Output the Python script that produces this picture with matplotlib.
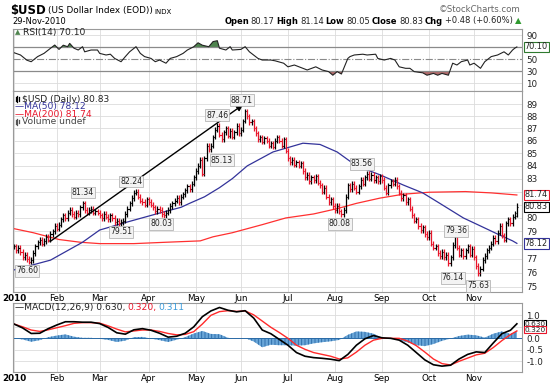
"""US Dollar Index, 2010: daily OHLC bars with MA(50)/MA(200), RSI(14) and MACD(12,26,9)."""
import matplotlib
matplotlib.use("Agg")
import matplotlib.pyplot as plt
import numpy as np
import pandas as pd
from matplotlib.lines import Line2D
from matplotlib.ticker import NullLocator

START, END = "2010-01-04", "2010-11-29"

# daily closes (one per trading day)
closes = [
    77.9, 77.6, 77.8, 77.5, 77.1, 77.3, 77.0, 76.8, 76.9, 77.4,
    77.9, 78.2, 78.4, 78.1, 78.3, 78.6, 78.4, 78.8, 79.0, 79.4,
    79.2, 79.5, 79.9, 80.2, 80.0, 80.4, 80.6, 80.3, 80.1, 80.4,
    80.3, 80.8, 81.1, 80.6, 80.4, 80.6, 80.7, 80.4, 80.5, 80.4,
    80.2, 80.0, 80.3, 80.1, 79.9, 80.2, 80.0, 79.7, 79.8, 79.6,
    79.7, 79.8, 80.3, 80.7, 81.1, 81.5, 81.9, 82.0, 81.6, 81.3,
    81.2, 81.0, 81.4, 81.2, 81.0, 80.8, 80.5, 80.7, 80.6, 80.3,
    80.2, 80.4, 80.6, 80.9, 81.1, 81.3, 81.5, 81.2, 81.6, 81.8,
    82.1, 82.4, 82.2, 82.6, 83.1, 83.6, 84.0, 84.5, 83.4, 84.6,
    85.6, 85.3, 85.6, 86.3, 86.9, 87.2, 86.5, 86.1, 86.7, 87.0,
    86.4, 86.8, 86.3, 86.7, 87.2, 86.6, 86.9, 87.6, 88.4, 88.0,
    87.5, 87.6, 87.0, 86.6, 86.1, 86.3, 85.9, 86.2, 86.0, 85.6,
    85.8, 85.5, 86.0, 86.3, 86.0, 85.6, 86.1, 85.2, 84.6, 84.3,
    84.5, 84.1, 84.3, 84.0, 84.2, 83.6, 83.1, 83.3, 82.8, 83.1,
    82.9, 83.2, 82.7, 82.5, 82.0, 82.3, 81.6, 81.2, 81.4, 80.9,
    80.6, 80.9, 80.5, 80.3, 80.6, 81.6, 82.5, 82.2, 82.6, 82.3,
    82.0, 82.4, 82.9, 82.6, 83.1, 83.4, 83.0, 83.3, 82.9, 83.1,
    82.8, 83.2, 82.9, 82.3, 81.9, 82.5, 82.8, 82.6, 82.9, 82.4,
    81.9, 81.5, 81.7, 81.2, 81.4, 80.7, 80.2, 79.8, 79.9, 79.4,
    79.1, 79.3, 78.8, 78.6, 78.9, 78.1, 77.8, 77.9, 77.4, 77.2,
    77.5, 77.1, 77.3, 76.7, 77.1, 78.0, 78.7, 77.8, 77.3, 77.6,
    77.2, 77.6, 77.9, 77.3, 77.7, 77.1, 76.5, 76.0, 76.3, 76.9,
    77.2, 77.6, 77.8, 78.1, 78.5, 78.3, 78.9, 79.4, 78.7, 78.4,
    79.6, 79.9, 79.6, 80.1, 80.35, 80.83,
]
last_ohlc = (80.17, 81.14, 80.05, 80.83)
WICK = 0.2  # bar extension beyond open/close, style only

ma50_idx = [0, 17, 32, 40, 53, 62, 71, 78, 82, 89, 96, 102, 109, 121, 129, 135,
            143, 151, 160, 171, 182, 191, 198, 210, 218, 226, 233, 235]
ma50_val = [76.2, 76.9, 78.2, 79.1, 79.7, 80.1, 80.5, 80.8, 81.1, 81.6, 82.3, 83.0,
            84.0, 85.1, 85.5, 85.8, 85.7, 85.1, 84.0, 83.3, 82.5, 81.9, 81.2, 80.0,
            79.4, 78.8, 78.3, 78.12]

ma200_idx = [0, 9, 21, 31, 40, 56, 71, 87, 93, 102, 116, 127, 140, 151, 160, 171,
             182, 194, 211, 223, 235]
ma200_val = [79.2, 78.9, 78.4, 78.2, 78.1, 78.1, 78.2, 78.3, 78.6, 78.9, 79.5, 80.0,
             80.3, 80.7, 81.1, 81.5, 81.8, 81.95, 82.0, 81.9, 81.74]

rsi_idx = [0, 3, 6, 8, 11, 14, 17, 19, 21, 23, 25, 26, 28, 30, 32, 33, 36, 39, 40, 43,
           45, 47, 50, 52, 54, 57, 59, 61, 64, 66, 68, 71, 73, 76, 79, 81, 84, 86, 88, 91,
           93, 95, 96, 99, 101, 102, 106, 108, 110, 114, 116, 120, 122, 124, 126, 128,
           131, 135, 137, 141, 144, 147, 149, 151, 153, 156, 157, 159, 163, 165, 169,
           170, 173, 176, 178, 180, 183, 185, 187, 191, 193, 196, 198, 200, 203, 205,
           207, 209, 212, 213, 215, 218, 220, 223, 226, 229, 231, 233, 234, 235]
rsi_val = [60.5, 56.7, 48, 45.5, 54, 59.4, 67.8, 73.3, 66, 73, 70.5, 76, 68, 65, 70.5,
           62, 65, 65, 59.4, 56.7, 58, 51, 45.5, 54, 62, 70.5, 59.4, 54, 51, 45.5, 48.3,
           43, 51, 54, 59.4, 65, 70.5, 77, 73, 70.5, 79, 80.5, 68, 65, 70.5, 65, 66, 70.5,
           62, 51, 48.3, 48.3, 47, 45, 43, 37, 40, 34.5, 31.7, 37, 31.7, 29, 23, 29, 25,
           51, 54, 56.7, 58, 56.7, 58, 51, 48.3, 51, 48.3, 37, 34.5, 34.5, 29, 27, 23, 26,
           23, 26, 23, 43, 40, 45.5, 48.3, 40, 43, 34.5, 45.5, 54, 56.7, 62, 56.7, 65,
           68, 70.1]

macd_idx = list(range(0, 233, 4)) + [235]
macd_line = [0.62, 0.45, 0.21, 0.22, 0.42, 0.58, 0.72, 0.72, 0.70, 0.70,
             0.64, 0.47, 0.24, 0.18, 0.37, 0.42, 0.35, 0.22, 0.05, 0.09,
             0.22, 0.50, 0.94, 1.19, 1.34, 1.22, 1.15, 1.20, 0.88, 0.36,
             0.20, -0.05, -0.30, -0.62, -0.78, -0.84, -0.87, -0.91, -0.97, -0.70,
             -0.30, -0.02, 0.12, 0.02, 0.00, -0.08, -0.30, -0.62, -0.94, -1.15,
             -1.21, -1.17, -0.90, -0.70, -0.59, -0.62, -0.20, 0.20, 0.35, 0.63]
macd_signal = [0.62, 0.50, 0.36, 0.30, 0.37, 0.46, 0.55, 0.65, 0.68, 0.68,
               0.66, 0.54, 0.40, 0.28, 0.32, 0.36, 0.36, 0.30, 0.21, 0.15,
               0.17, 0.29, 0.62, 1.00, 1.16, 1.20, 1.17, 1.19, 1.02, 0.75,
               0.48, 0.25, 0.00, -0.30, -0.48, -0.62, -0.70, -0.78, -0.90, -0.85,
               -0.60, -0.30, -0.08, 0.00, 0.00, 0.00, -0.12, -0.32, -0.60, -0.90,
               -1.10, -1.16, -1.00, -0.86, -0.72, -0.65, -0.40, -0.10, 0.16, 0.32]

# swing high/low call-outs (label position in bar index / price)
swing_idx = [6.1, 32.2, 50, 54.7, 68.7, 97.2, 94.9, 106.5, 162.6, 152.3, 206.5, 205.1, 216.8]
swing_pos = [76.13, 81.93, 78.96, 82.78, 79.55, 84.46, 88.09, 89.33, 84.15, 79.55, 79.04,
             75.63, 75.07]
swing_txt = ["76.60", "81.34", "79.51", "82.24", "80.03", "85.13", "87.46", "88.71",
             "83.56", "80.08", "79.36", "76.14", "75.63"]

trend_start = (16.8, 78.25)
trend_end = (107, 88.95)

W, H = 550, 386
RED = "#e8162b"
GRID = "#dcdcdc"
XLIM = (-0.5, 237.4)
MONTHS = ["2010", "Feb", "Mar", "Apr", "May", "Jun", "Jul", "Aug", "Sep", "Oct", "Nov"]


def fx(px):
    return px / W


def fy(py):
    return 1 - py / H


def setup_panel(ax, month_idx):
    ax.set_xlim(XLIM)
    ax.set_xticks(month_idx)
    ax.tick_params(axis="x", length=0, labelbottom=False, labelsize=6.3, pad=1.5)
    ax.yaxis.tick_right()
    ax.tick_params(axis="y", length=0, pad=3, labelsize=6.3, labelcolor="#222")
    ax.grid(True, color=GRID, lw=0.6)
    ax.set_axisbelow(True)
    for s in ax.spines.values():
        s.set_color("#9a9a9a")
        s.set_linewidth(0.8)


def tag(ax, y, text, color, dy=0.0, size=5.9, pad=0.1):
    ax.annotate(text, xy=(1, y), xycoords=("axes fraction", "data"),
                xytext=(2, dy), textcoords="offset points", ha="left", va="center",
                fontsize=size, color="#222", annotation_clip=False,
                bbox=dict(boxstyle=f"square,pad={pad}", fc="white", ec=color, lw=0.8))


def month_labels(ax, month_idx):
    ax.set_xticks(month_idx, labels=MONTHS[:len(month_idx)])
    ax.tick_params(axis="x", labelbottom=True)
    ax.get_xticklabels()[0].set_fontweight("bold")


def main() -> int:
    dates = pd.bdate_range(START, END)
    month_idx = [0] + [i for i in range(1, len(dates)) if dates[i].month != dates[i - 1].month]

    c = np.array(closes, dtype=float)
    x = np.arange(len(c))
    prev = np.r_[c[0], c[:-1]]
    o = prev.copy()
    hi = np.maximum(o, c) + WICK
    lo = np.minimum(o, c) - WICK
    o[-1], hi[-1], lo[-1], c[-1] = last_ohlc
    colors = np.where(c >= prev, "black", RED)

    plt.rcParams["font.family"] = ["DejaVu Sans"]
    plt.rcParams["hatch.linewidth"] = 0.6
    fig = plt.figure(figsize=(W / 100, H / 100), dpi=100)

    ax_rsi = fig.add_axes([fx(13), fy(91), (522 - 13) / W, (91 - 29) / H])
    ax_p = fig.add_axes([fx(13), fy(292), (522 - 13) / W, (292 - 91) / H])
    ax_m = fig.add_axes([fx(13), fy(372), (522 - 13) / W, (372 - 303) / H])
    for ax in (ax_rsi, ax_p, ax_m):
        setup_panel(ax, month_idx)

    # RSI
    ri = np.array(rsi_idx)
    rv = np.array(rsi_val)
    ax_rsi.set_ylim(-3.3, 100)
    ax_rsi.set_yticks([10, 30, 50, 70, 90], labels=["10", "30", "50", "", "90"])
    ax_rsi.yaxis.grid(False)
    for lvl in (10, 90):
        ax_rsi.axhline(lvl, color=GRID, lw=0.6, zorder=0)
    ax_rsi.axhline(70, color="#8a8a8a", lw=0.9)
    ax_rsi.axhline(30, color="#8a8a8a", lw=0.9)
    ax_rsi.axhline(50, color="#8a8a8a", lw=0.8, ls="-.")
    ax_rsi.fill_between(ri, 70, rv, where=rv > 70, interpolate=True, color="#4e844e", lw=0)
    ax_rsi.fill_between(ri, 30, rv, where=rv < 30, interpolate=True, color="#b06a6a", lw=0)
    ax_rsi.plot(ri, rv, color="#222", lw=0.8)
    tag(ax_rsi, 70.1, "70.10", "#2f7a2f")

    # price
    ax_p.set_yscale("log")
    ax_p.set_ylim(74.64, 90.1)
    ticks = list(range(75, 90))
    ax_p.set_yticks(ticks, labels=["" if t in (78, 81, 82) else str(t) for t in ticks])
    ax_p.yaxis.set_minor_locator(NullLocator())
    ax_p.plot(ma200_idx, ma200_val, color="#ff3030", lw=0.9)
    ax_p.plot(ma50_idx, ma50_val, color="#33339a", lw=0.9)
    ax_p.vlines(x, lo, hi, colors=colors, lw=0.9)
    ax_p.hlines(o, x - 0.55, x, colors=colors, lw=0.8)
    ax_p.hlines(c, x, x + 0.55, colors=colors, lw=0.8)
    ax_p.annotate("", xy=trend_end, xytext=trend_start,
                  arrowprops=dict(arrowstyle="-|>", color="black", lw=1.0,
                                  mutation_scale=9, shrinkA=0, shrinkB=0))
    for i, p, t in zip(swing_idx, swing_pos, swing_txt):
        ax_p.text(i, p, t, fontsize=5.6, ha="center", va="center", color="#222",
                  bbox=dict(boxstyle="square,pad=0.15", fc="#f3f3f3", ec="#a8a8a8", lw=0.5))
    tag(ax_p, 81.74, "81.74", RED)
    tag(ax_p, 80.83, "80.83", "black")
    tag(ax_p, 78.12, "78.12", "#33339a")
    month_labels(ax_p, month_idx)

    # MACD
    mi = np.array(macd_idx)
    ml = np.array(macd_line)
    ms = np.array(macd_signal)
    hist = ml - ms
    ax_m.set_ylim(-1.465, 1.535)
    ax_m.set_yticks([-1.0, -0.5, 0.0, 0.5, 1.0], labels=["-1.0", "-0.5", "0.0", "", "1.0"])
    ax_m.fill_between(mi, 0, hist, facecolor="#6aa6d8", edgecolor="#2a6aa6",
                      hatch="|||||", lw=0)
    ax_m.axhline(0, color="#2a6aa6", lw=0.7)
    ax_m.plot(mi, ms, color="#ff2a2a", lw=1.0)
    ax_m.plot(mi, ml, color="black", lw=1.2)
    tag(ax_m, 0.63, "0.630", "black", dy=0.0, size=5.3, pad=0.05)
    tag(ax_m, 0.32, "0.320", RED, dy=0.9, size=5.3, pad=0.05)
    month_labels(ax_m, month_idx)

    # header and legends
    r = fig.canvas.get_renderer()

    def run_text(px, py, parts, size=6.6, gap=2, right=None):
        arts = []
        for s, color, weight in parts:
            t = fig.text(fx(px), fy(py), s, color=color, fontsize=size,
                         fontweight=weight, ha="left", va="center")
            arts.append(t)
            px = t.get_window_extent(renderer=r).x1 + gap
        if right is not None:
            shift = right - (px - gap)
            for t in arts:
                tx, ty = t.get_position()
                t.set_position((tx + shift / W, ty))
        return px

    nx = run_text(10, 10.5, [("$USD", "black", "bold")], size=8.4)
    nx = run_text(nx, 11, [("(US Dollar Index (EOD))", "black", "normal")], size=6.4)
    run_text(nx, 11.5, [("INDX", "black", "normal")], size=5.0)
    fig.text(fx(12), fy(21.5), "29-Nov-2010", fontsize=6.0, va="center", ha="left")
    fig.text(fx(521), fy(10), "\u00a9StockCharts.com", fontsize=6.2, color="#666",
             va="center", ha="right")
    run_text(237, 21, [("Open", "black", "bold"), ("80.17", "#222", "normal"),
                       ("High", "black", "bold"), ("81.14", "#222", "normal"),
                       ("Low", "black", "bold"), ("80.05", "#222", "normal"),
                       ("Close", "black", "bold"), ("80.83", "#222", "normal"),
                       ("Chg", "black", "bold"), ("+0.48 (+0.60%)", "#222", "normal"),
                       ("\u25b2", "#2f9a2f", "normal")], size=6.0, gap=1.8, right=521)

    run_text(15, 32, [("\u25b2", "#4e844e", "normal")], size=5)
    run_text(23, 32, [("RSI(14) 70.10", "#222", "normal")])

    for dx, h in ((16, 4), (17.5, 6), (19, 3.5)):
        fig.add_artist(Line2D([fx(dx), fx(dx)], [fy(99 + h / 2), fy(99 - h / 2)],
                              color="black", lw=0.9))
        fig.add_artist(Line2D([fx(dx), fx(dx)], [fy(121.5 + h / 2), fy(121.5 - h / 2)],
                              color="#555", lw=0.9))
    run_text(22, 99, [("$USD (Daily) 80.83", "#222", "normal")])
    run_text(15, 106.5, [("\u2014MA(50) 78.12", "#33339a", "normal")])
    run_text(15, 114, [("\u2014MA(200) 81.74", RED, "normal")])
    run_text(22, 121.5, [("Volume undef", "#444", "normal")])

    run_text(15, 307.5, [("\u2014MACD(12,26,9) 0.630,", "#222", "normal"),
                         ("0.320,", RED, "normal"), ("0.311", "#3a9ad9", "normal")])

    fig.savefig("out.png", dpi=100, facecolor="white")
    plt.close(fig)
    return 0


if __name__ == "__main__":
    raise SystemExit(main())
